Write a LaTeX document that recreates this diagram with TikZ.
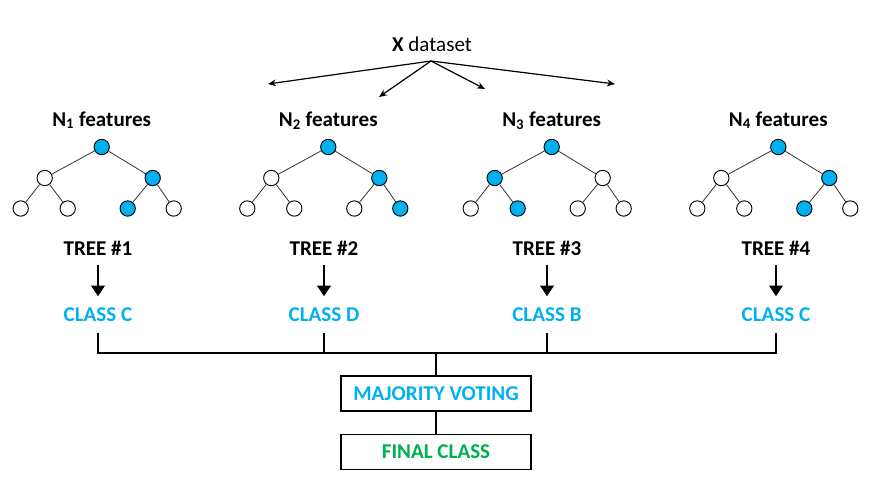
\documentclass[tikz,border=0pt]{standalone}
\usepackage{fontspec}
\setmainfont{Carlito}
\usetikzlibrary{arrows.meta}
\definecolor{skyblue}{RGB}{0,176,240}
\definecolor{okgreen}{RGB}{0,176,80}

\begin{document}
\begin{tikzpicture}[x=0.75pt,y=-0.75pt,
    every node/.style={font=\fontsize{15.8}{19}\selectfont},
    leaf/.style={draw,circle,inner sep=0pt,minimum size=11.5pt,
      fill=white,line width=0.7pt},
    hit/.style={leaf,fill=skyblue},
    branch/.style={draw=black!80,line width=0.6pt},
    lbl/.style={font=\fontsize{15.8}{19}\selectfont\bfseries,inner sep=0pt},
    cls/.style={lbl,text=skyblue},
    votebox/.style={draw,line width=1.1pt,minimum width=142.5pt,
      minimum height=26.3pt,inner sep=0pt,
      font=\fontsize{15.8}{19}\selectfont\bfseries},
    split/.style={-{Stealth[length=6pt,width=5pt]},line width=0.9pt},
    down/.style={-{Triangle[length=8pt,width=10pt]},line width=2.2pt},
    busline/.style={line width=1.5pt},
  ]
  \useasboundingbox (0,0) rectangle (875,497);

  % the data set and its four samples
  \node[anchor=base] (data) at (432,51) {\textbf{X} dataset};
  \coordinate (src) at (431,61);
  \coordinate (s1) at (268,84);
  \coordinate (s2) at (379,97);
  \coordinate (s3) at (485,89);
  \coordinate (s4) at (615,84);
  \foreach \i in {1,...,4}
    \draw[split] (src) -- (s\i);

  % the four trees
  \foreach \i/\x/\sl/\sr/\sll/\slr/\srl/\srr in {
      1/101.7/leaf/hit/leaf/leaf/hit/leaf,
      2/328.3/leaf/hit/leaf/leaf/leaf/hit,
      3/551.7/hit/leaf/leaf/hit/leaf/leaf,
      4/778.3/leaf/hit/leaf/leaf/hit/leaf}
  {
    \begin{scope}[shift={(\x,0)}]
      \node[lbl,anchor=base] (f\i) at (0,126) {N\textsubscript{\i} features};
      \node[hit] (t\i) at (0,147) {};
      \node[\sl] (t\i-l) at (-57,178) {};
      \node[\sr] (t\i-r) at (51,178) {};
      \node[\sll] (t\i-ll) at (-81,208.5) {};
      \node[\slr] (t\i-lr) at (-34,208.5) {};
      \node[\srl] (t\i-rl) at (26,208.5) {};
      \node[\srr] (t\i-rr) at (72,208.5) {};
      \draw[branch] (t\i) -- (t\i-l) (t\i) -- (t\i-r)
        (t\i-l) -- (t\i-ll) (t\i-l) -- (t\i-lr)
        (t\i-r) -- (t\i-rl) (t\i-r) -- (t\i-rr);
    \end{scope}
  }

  % tree names and their votes
  \foreach \i/\x/\c in {1/98/C, 2/324/D, 3/547/B, 4/776/C} {
    \node[lbl,anchor=base] (n\i) at (\x,255) {TREE \#\i};
    \node[cls,anchor=base] (c\i) at (\x,321.7) {CLASS \c};
    \draw[down,shorten <=7.5pt,shorten >=8.5pt] (n\i.south) -- (c\i.north);
  }

  % majority voting
  \node[votebox,text=skyblue] (vote) at (436,393.5) {MAJORITY VOTING};
  \node[votebox,text=okgreen] (final) at (436,451.8) {FINAL CLASS};
  \coordinate (bus) at (436,353);
  \draw[busline] ([yshift=-8.5pt]c1.south) |- (bus) -| ([yshift=-8.5pt]c4.south);
  \foreach \i in {2,3}
    \draw[busline] ([yshift=-8.5pt]c\i.south) -- (c\i |- bus);
  \draw[busline] (bus) -- (vote);
  \draw[busline] (vote) -- (final);
\end{tikzpicture}
\end{document}
